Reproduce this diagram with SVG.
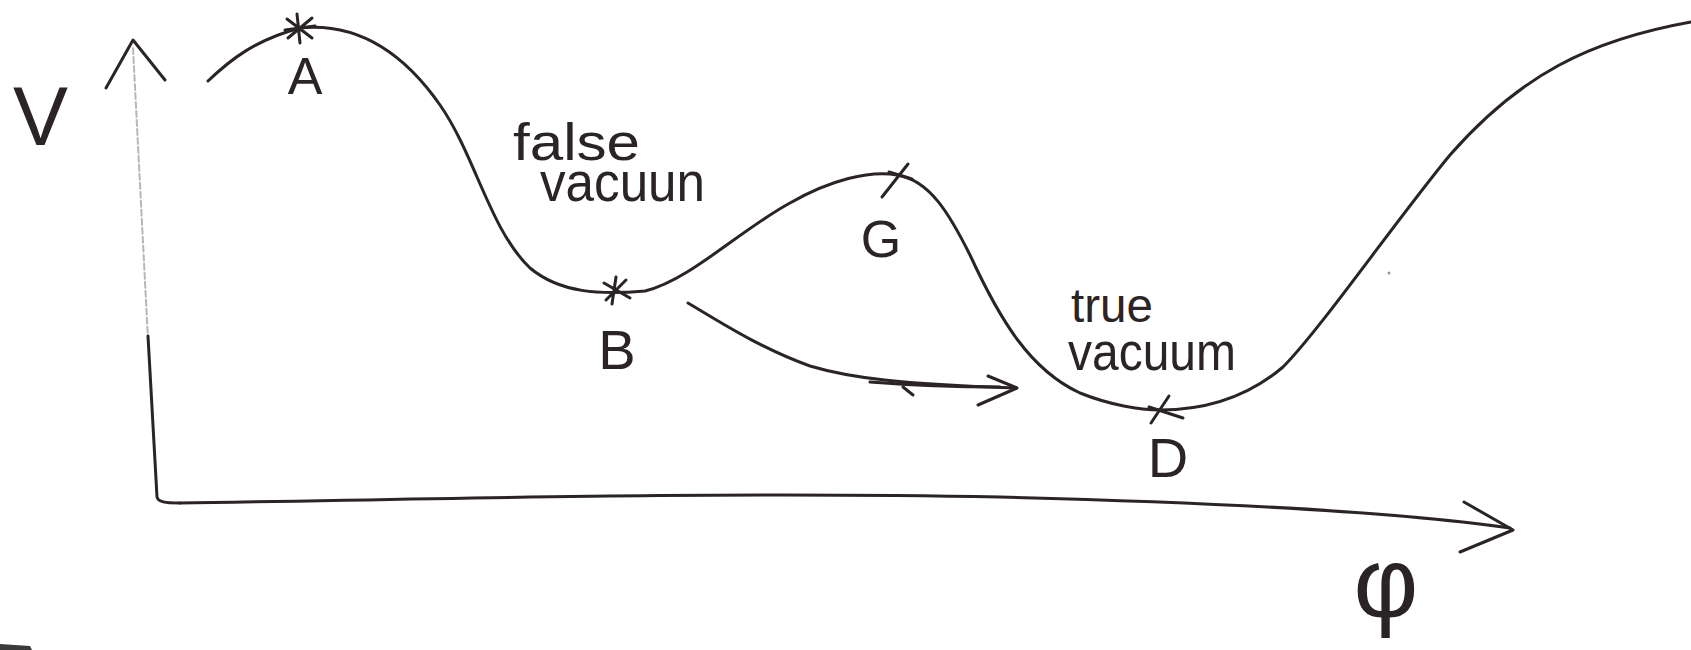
<svg xmlns="http://www.w3.org/2000/svg" width="1691" height="650" viewBox="0 0 1691 650">
<style>
.ink{fill:none;stroke:#2b2426;stroke-width:3;stroke-linecap:round;stroke-linejoin:round}
.faint{fill:none;stroke:#b9b6b6;stroke-width:2;stroke-dasharray:6 3;stroke-linecap:round}
.mark{fill:none;stroke:#2b2426;stroke-width:3;stroke-linecap:round}
.lbl{font-family:"Liberation Sans",Arial,sans-serif;fill:#2b2426;text-anchor:middle}
.txt{font-family:"Liberation Sans",Arial,sans-serif;fill:#2b2426}
</style>
<rect width="1691" height="650" fill="#ffffff"/>
<g id="connectors">
  <g id="y-axis">
    <path class="faint" d="M133,48 L148,340"/>
    <path class="ink" d="M148,336 L157,497 C158,502 165,503 180,503"/>
    <path class="ink" d="M106,88 L133,40 L165,80"/>
  </g>
  <g id="x-axis">
    <path class="ink" d="M180,503 C400,500 700,491 1000,497 C1200,502 1400,512 1510,528"/>
    <path class="ink" d="M1464,502 L1513,530 L1460,552"/>
  </g>
  <g id="tunnel-arrow">
    <path class="ink" d="M688,303 C720,322 760,348 810,366 C850,378 900,384 1016,388"/>
    <path class="ink" d="M870,382 C920,386 960,387 1000,387" stroke-width="5"/>
    <path class="ink" d="M903,387 L913,395"/>
    <path class="ink" d="M988,376 L1017,388 L978,405"/>
  </g>
</g>
<g id="potential-curve">
  <path class="ink" d="M208,81 C230,60 255,40 300,28 C360,22 405,55 440,105 C475,155 490,230 530,268 C560,293 600,295 645,291 C690,280 740,230 790,203 C830,180 870,170 897,175 C930,180 950,215 970,255 C1000,320 1030,370 1080,393 C1110,405 1140,410 1160,410 C1210,410 1250,395 1283,367 C1320,330 1400,215 1450,155 C1520,75 1590,40 1691,22"/>
</g>
<g id="node-A">
  <path class="mark" d="M297,14 L300,43 M287,19 L312,38 M312,18 L288,38 M285,30 L315,26"/>
  <text class="lbl" x="305" y="94" font-size="52">A</text>
</g>
<g id="node-B">
  <path class="mark" d="M616,277 L612,304 M604,283 L630,298 M626,280 L606,300"/>
  <text class="lbl" x="617" y="369" font-size="56">B</text>
</g>
<g id="node-G">
  <path class="mark" d="M908,164 L882,197 M889,172 L912,179"/>
  <text class="lbl" x="881" y="257" font-size="52">G</text>
</g>
<g id="node-D">
  <path class="mark" d="M1169,396 L1151,423 M1149,407 L1183,418"/>
  <text class="lbl" x="1168" y="477" font-size="56">D</text>
</g>
<g id="label-false-vacuum">
  <text class="txt" x="513" y="160" font-size="52" textLength="127" lengthAdjust="spacingAndGlyphs">false</text>
  <text class="txt" x="540" y="201" font-size="56" textLength="165" lengthAdjust="spacingAndGlyphs">vacuun</text>
</g>
<g id="label-true-vacuum">
  <text class="txt" x="1071" y="322" font-size="48" textLength="82" lengthAdjust="spacingAndGlyphs">true</text>
  <text class="txt" x="1068" y="370" font-size="54" textLength="168" lengthAdjust="spacingAndGlyphs">vacuum</text>
</g>
<g id="axis-label-V">
  <text class="txt" x="13" y="145" font-size="84" textLength="55" lengthAdjust="spacingAndGlyphs">V</text>
</g>
<g id="axis-label-phi">
  <text class="lbl" x="1386" y="617" font-size="100">φ</text>
</g>
<circle cx="1389" cy="273" r="1.5" fill="#9a9595"/>
<path d="M0,644 L30,646 L32,650 L0,650 Z" fill="#3a3a3a"/>
</svg>
